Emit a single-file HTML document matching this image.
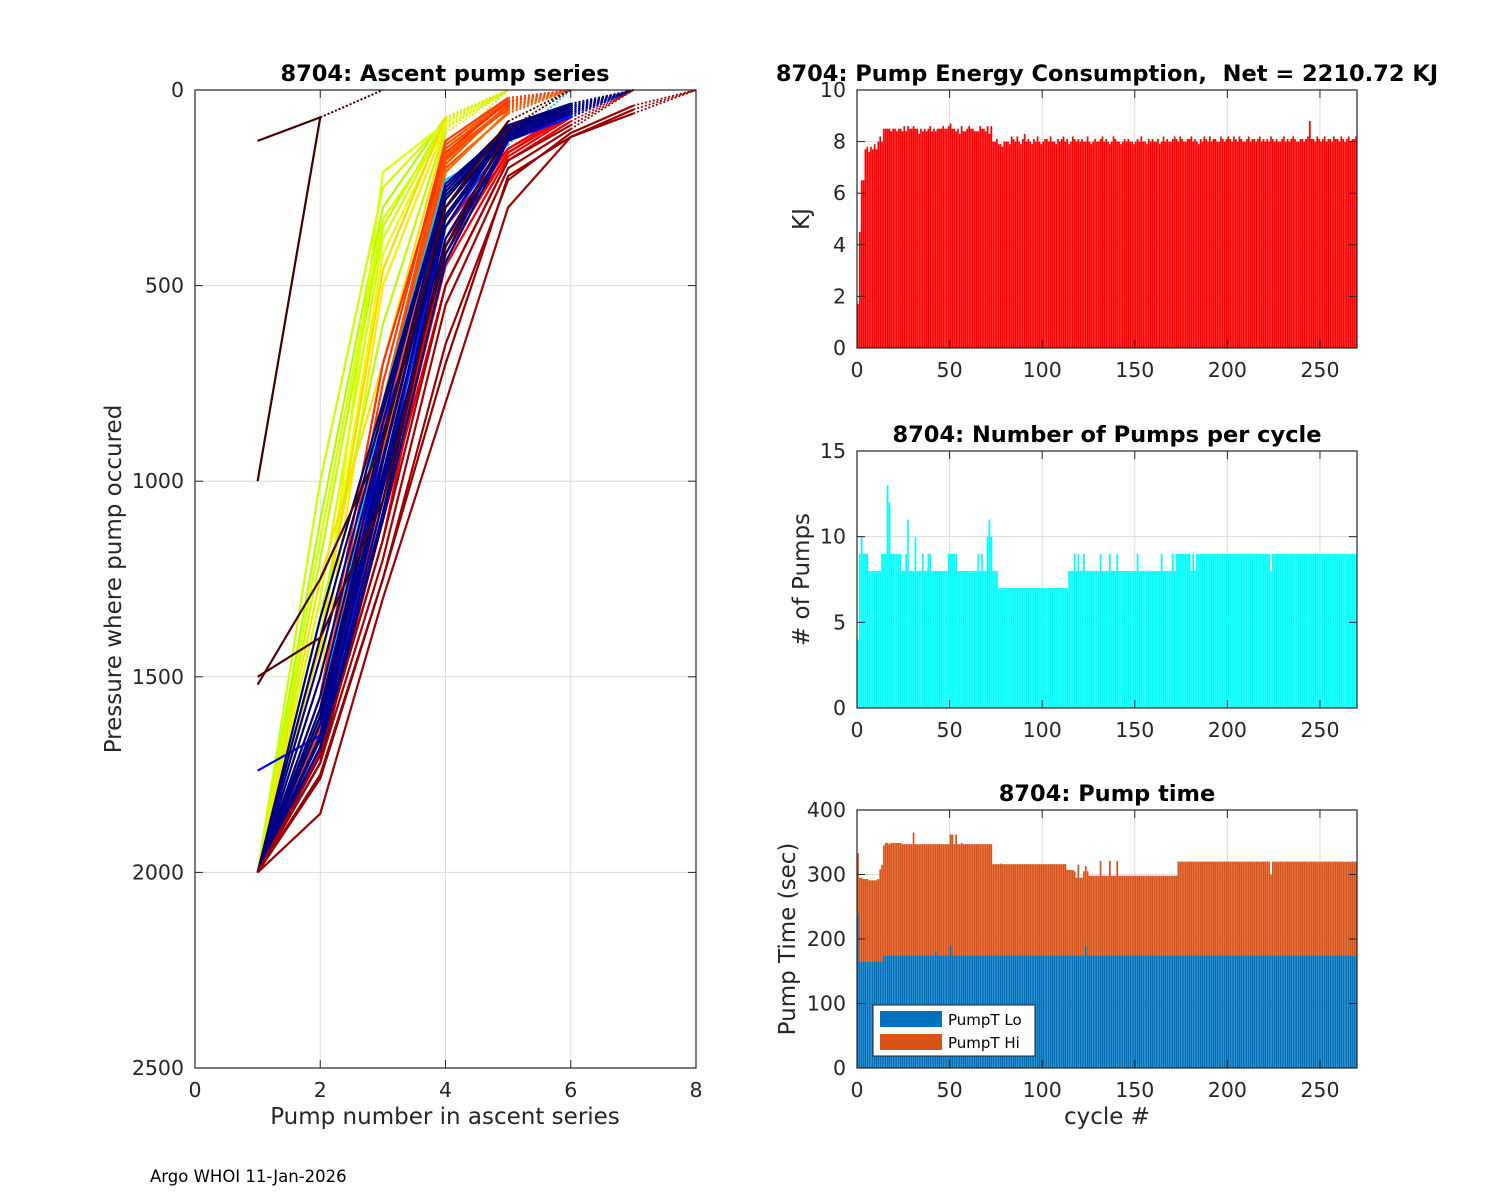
<!DOCTYPE html>
<html><head><meta charset="utf-8">
<style>
html,body{margin:0;padding:0;background:#fff;}
svg{display:block;font-family:"DejaVu Sans","Liberation Sans",sans-serif;}
.tick{font-size:20.5px;fill:#262626;}
.ttl{font-size:22.5px;font-weight:bold;fill:#000;white-space:pre;}
.lbl{font-size:23px;fill:#262626;}
</style></head>
<body>
<svg id="fig" width="1500" height="1200" viewBox="0 0 1500 1200">
<rect width="1500" height="1200" fill="#fff"/>
<text x="150" y="1182" font-size="16.5" fill="#000">Argo WHOI 11-Jan-2026</text>
</svg>
<script>
// ---------- DATA ----------
const profileP = [
[2000,1500,500,90],[2000,1400,420,85],[2000,1300,380,80],[2000,1200,350,75],[2000,1100,300,70],
[2000,1000,250,80],[2000,1450,210,85],[2000,1350,600,100],[2000,1250,700,110],[2000,1550,1100,150],
[2000,1150,330,95],[2000,1420,460,70],
[2000,1650,900,170,40],[2000,1600,850,150,30],[2000,1620,800,140,25],[2000,1580,750,130,20],
[2000,1680,950,180,45],[2000,1550,700,160,30],[2000,1640,880,200,60],[2000,1600,820,160,50],
[2000,1660,920,190,35],[2000,1700,1000,210,55],[2000,1630,870,175,40],[2000,1610,840,165,45],
[2000,1680,1100,450,170,70],[2000,1700,1150,400,160,60],[2000,1650,1050,380,150,60],
[2000,1720,1100,500,180,80],[2000,1600,1000,350,150,55],[2000,1690,1080,420,160,65],
[2000,1700,950,300,110,60],[2000,1720,1000,350,120,65],[2000,1680,900,280,100,55],
[2000,1650,850,400,130,70],[2000,1600,800,250,90,50],[1740,1650,900,300,110,60],
[2000,1600,800,230,140],
[2000,1650,1000,300,110,50],[2000,1700,1050,350,100,45],[2000,1600,950,280,95,40],
[2000,1550,900,260,90,35],[2000,1500,880,320,105,50],[2000,1450,850,240,100,45],
[2000,1680,1000,420,120,55],[2000,1720,1080,380,115,60],[2000,1400,820,270,95,40],
[2000,1620,980,330,110,50],[2000,1580,940,300,100,45],[2000,1660,1020,400,125,55],
[2000,1350,800,250,90,40],[2000,1700,1100,440,130,60],
[2000,1850,1300,800,300,120,50],[2000,1750,1250,650,230,110,40],[2000,1720,1200,550,200,100],
[2000,1700,1150,500,180,90],[2000,1760,1250,700,220,120,60],
[130,70],[1000,70],[1520,1250,900,300,80],[1500,1400,1050,400,100]
];
const profileColor = [
'#ffee00','#e8ff00','#d4ff00','#c0ff00','#b0ff00','#ccff00','#e0ff00','#bbff00','#ffe000','#a8ff00','#d8ff00','#ffd800',
'#ff6000','#ff4800','#ff5400','#ff3c00','#ff6c00','#ff3000','#ff5000','#ff4000','#ff5c00','#ff7000','#ff4400','#ff5800',
'#ff0000','#f00000','#ff1000','#e80000','#ff0000','#f40000',
'#0000ff','#0020ff','#0040ff','#0010f0','#00e0ff','#0000ff','#00c8ff',
'#000080','#00008b','#000070','#000090','#00007a','#0000a0','#000080','#000088','#000075','#000085','#00007f','#000090','#000078','#000082',
'#a00000','#a00000','#a80000','#a00000','#980000',
'#400000','#400000','#500000','#500000'
];

const cycles = [];
for (let c = 1; c <= 270; c++) cycles.push(c);

const energy = [
1.7,4.5,6.5,6.5,7.7,7.8,7.6,7.8,7.7,7.9, 7.7,8.0,8.2,8.0,8.5,8.5,8.5,8.5,8.4,8.5,
8.5,8.4,8.5,8.5,8.4,8.6,8.4,8.6,8.5,8.5, 8.6,8.5,8.5,8.3,8.5,8.4,8.5,8.4,8.5,8.6,
8.4,8.5,8.4,8.5,8.5,8.5,8.6,8.5,8.5,8.6, 8.7,8.5,8.5,8.4,8.5,8.3,8.6,8.4,8.4,8.5,
8.6,8.5,8.5,8.4,8.4,8.4,8.6,8.5,8.5,8.4, 8.6,8.3,8.6,8.0,8.0,8.1,7.9,7.9,7.8,8.0,
8.0,8.0,7.9,8.2,8.1,8.0,8.2,8.0,7.9,8.1, 8.3,8.0,8.1,8.0,7.9,8.1,8.0,8.2,8.0,7.9,
8.0,8.1,8.1,8.0,8.2,8.0,8.0,7.9,8.1,8.0, 8.1,8.2,8.0,8.1,7.9,8.0,8.2,8.1,8.0,8.1,
8.0,8.1,8.0,8.0,8.2,8.0,7.9,8.0,8.1,8.0, 8.0,8.1,8.2,8.0,8.1,8.0,7.9,8.0,8.2,8.1,
8.0,8.0,7.9,8.0,8.1,8.0,8.1,8.0,8.0,7.9, 8.0,8.1,8.0,8.2,8.0,8.0,7.9,8.1,8.0,8.1,
8.0,8.0,8.1,7.9,8.0,8.2,8.0,8.1,8.0,8.0, 8.1,8.2,8.1,8.0,8.2,8.1,8.0,8.0,8.1,8.1,
8.2,8.0,8.1,8.0,7.9,8.1,8.0,8.2,8.1,8.0, 8.2,8.0,8.1,8.1,8.0,8.0,8.2,8.1,8.0,8.1,
8.2,8.1,8.0,8.2,8.1,8.0,8.2,8.1,8.0,8.0, 8.1,8.2,8.0,8.1,8.1,8.0,8.1,8.2,8.0,8.1,
8.0,8.1,8.0,8.2,8.1,8.0,8.1,8.0,8.0,8.1, 8.2,8.0,8.1,8.0,8.1,8.2,8.1,8.0,8.0,8.1,
8.1,8.0,8.1,8.2,8.8,8.1,8.1,8.0,8.2,8.1, 8.0,8.1,8.2,8.0,8.1,8.1,8.0,8.2,8.1,8.1,
8.0,8.2,8.1,8.0,8.1,8.2,8.0,8.1,8.1,8.2
];

const pumps = [
4,9,10,9,9,9,8,8,8,8, 8,8,8,9,9,9,13,12,9,9,
9,9,9,9,8,8,9,11,8,8, 8,10,8,8,8,9,8,8,9,9,
8,8,8,8,8,8,8,8,8,9, 9,9,9,9,8,8,8,8,8,8,
8,8,8,8,8,9,8,9,8,8, 10,11,10,8,8,8,7,7,7,7,
7,7,7,7,7,7,7,7,7,7, 7,7,7,7,7,7,7,7,7,7,
7,7,7,7,7,7,7,7,7,7, 7,7,7,7,8,8,8,9,8,9,
8,8,9,8,8,8,8,8,8,8, 8,9,8,8,8,8,9,8,8,8,
9,8,8,8,8,8,8,8,8,8, 8,9,8,8,8,8,8,8,8,8,
8,8,8,8,9,8,8,8,8,8, 9,8,9,9,9,9,9,9,9,9,
8,9,8,9,9,9,9,9,9,9, 9,9,9,9,9,9,9,9,9,9,
9,9,9,9,9,9,9,9,9,9, 9,9,9,9,9,9,9,9,9,9,
9,9,9,8,9,9,9,9,9,9, 9,9,9,9,9,9,9,9,9,9,
9,9,9,9,9,9,9,9,9,9, 9,9,9,9,9,9,9,9,9,9,
9,9,9,9,9,9,9,9,9,9
];

const pumpLo = [
240,165,165,165,165,165,165,165,165,165, 165,165,165,165,175,175,175,175,175,175,
175,175,175,175,175,175,175,175,175,175, 175,175,175,175,175,175,175,175,175,175,
175,175,180,175,175,175,175,175,175,175, 190,175,175,175,175,175,175,175,175,175,
175,175,175,175,175,175,175,175,175,175, 175,175,175,175,175,175,175,175,175,175,
175,175,175,175,175,175,175,175,175,175, 175,175,175,175,175,175,175,175,175,175,
175,175,175,175,175,175,175,175,175,175, 175,175,175,175,175,175,175,175,175,175,
175,175,175,190,175,175,175,175,175,175, 175,175,175,175,175,175,175,175,175,175,
175,175,175,175,175,175,175,175,175,175, 175,175,175,175,175,175,175,175,175,175,
175,175,175,175,175,175,175,175,175,175, 175,175,175,175,175,175,175,175,175,175,
175,175,175,175,175,175,175,175,175,175, 175,175,175,175,175,175,175,175,175,175,
175,175,175,175,175,175,175,175,175,175, 175,175,175,175,175,175,175,175,175,175,
175,175,175,175,175,175,175,175,175,175, 175,175,175,175,175,175,175,175,175,175,
175,175,175,175,175,175,175,175,175,175, 175,175,175,175,175,175,175,175,175,175,
175,175,175,175,175,175,175,175,175,175
];

const pumpHi = [
93,130,130,128,128,128,126,126,126,126, 126,128,143,150,170,174,174,172,174,174,
174,174,174,174,172,172,172,172,172,172, 190,172,172,172,172,172,172,172,172,172,
172,172,167,172,172,172,172,172,172,172, 172,187,172,187,172,172,174,172,172,172,
172,172,172,172,172,172,172,172,172,172, 172,172,172,141,141,141,141,142,141,141,
141,141,141,141,141,141,141,141,141,141, 141,141,141,141,141,141,141,141,141,141,
141,141,141,141,141,141,141,141,141,141, 141,141,141,132,132,132,132,130,120,140,
120,120,130,123,130,123,123,123,123,123, 123,146,123,123,123,123,146,123,123,123,
146,123,123,123,123,123,123,123,123,123, 123,123,123,123,123,123,123,123,123,123,
123,123,123,123,123,123,123,123,123,123, 123,123,123,145,145,145,145,145,145,145,
145,145,145,145,145,145,145,145,145,145, 145,145,145,145,145,145,145,145,145,145,
145,145,145,145,145,145,145,145,145,145, 145,145,145,145,145,145,145,145,145,145,
145,145,145,125,145,145,145,145,145,145, 145,145,145,145,145,145,145,145,145,145,
145,145,145,145,145,145,145,145,145,145, 145,145,145,145,145,145,145,145,145,145,
145,145,145,145,145,145,145,145,145,145
];

const leftXTicks = [0,2,4,6,8];
const leftYTicks = [0,500,1000,1500,2000,2500];
const cycleTicks = [0,50,100,150,200,250];
const energyTicks = [0,2,4,6,8,10];
const pumpTicks = [0,5,10,15];
const timeTicks = [0,100,200,300,400];

// ---------- DRAW ----------
const NS = 'http://www.w3.org/2000/svg';
const svg = document.getElementById('fig');
function el(tag, attrs, parent) {
  const e = document.createElementNS(NS, tag);
  for (const k in attrs) e.setAttribute(k, attrs[k]);
  (parent || svg).appendChild(e);
  return e;
}
function scale(d0, d1, r0, r1) { return v => r0 + (v - d0) / (d1 - d0) * (r1 - r0); }

function axes(name, x0, x1, y0, y1, xs, ys, xt, yt, title, titleX) {
  const g = el('g', {});
  
  
  xt.forEach(v => { const x = xs(v); el('line', {x1:x, x2:x, y1:y0, y2:y1, stroke:'#dcdcdc', 'stroke-width':1}, g); });
  yt.forEach(v => { const y = ys(v); el('line', {x1:x0, x2:x1, y1:y, y2:y, stroke:'#dcdcdc', 'stroke-width':1}, g); });
  const t = el('text', {x: titleX, y: y0 - 9, 'text-anchor':'middle', class:'ttl'});
  t.textContent = title;
  
  
  return g;
}
function frame(name, x0, x1, y0, y1, xs, ys, xt, yt, xfmt, yfmt) {
  const g = el('g', {});
  
  
  el('rect', {x:x0, y:y0, width:x1-x0, height:y1-y0, fill:'none', stroke:'#262626', 'stroke-width':1.2}, g);
  xt.forEach(v => {
    const x = xs(v);
    el('line', {x1:x, x2:x, y1:y1, y2:y1-8, stroke:'#262626'}, g);
    el('line', {x1:x, x2:x, y1:y0, y2:y0+8, stroke:'#262626'}, g);
    const t = el('text', {x:x, y:y1+29, 'text-anchor':'middle', class:'tick'}, g);
    t.textContent = xfmt(v);
    
    
  });
  yt.forEach(v => {
    const y = ys(v);
    el('line', {x1:x0, x2:x0+8, y1:y, y2:y, stroke:'#262626'}, g);
    el('line', {x1:x1, x2:x1-8, y1:y, y2:y, stroke:'#262626'}, g);
    const t = el('text', {x:x0-11, y:y+7, 'text-anchor':'end', class:'tick'}, g);
    t.textContent = yfmt(v);
    
    
  });
}
function label(text, x, y, rot, name) {
  const t = el('text', {x:x, y:y, 'text-anchor':'middle', class:'lbl', transform: rot ? `rotate(-90 ${x} ${y})` : ''});
  t.textContent = text;
  
  
}

// Left chart
const LX0 = 195, LX1 = 696, LY0 = 90, LY1 = 1068;
const lx = scale(0, 8, LX0, LX1), ly = scale(0, 2500, LY0, LY1);
axes('ascent-pump-chart', LX0, LX1, LY0, LY1, lx, ly, leftXTicks, leftYTicks, '8704: Ascent pump series', 445);
const lg = el('g', {});


profileP.forEach((p, i) => {
  const pts = p.map((v, k) => lx(k + 1) + ',' + ly(v)).join(' ');
  const line = el('polyline', {points: pts, fill:'none', stroke: profileColor[i], 'stroke-width': 2.2, 'stroke-linejoin':'round'}, lg);
  
  
  const n = p.length;
  const d = el('line', {x1: lx(n), y1: ly(p[n-1]), x2: lx(n + 1), y2: ly(0), stroke: profileColor[i], 'stroke-width': 1.8, 'stroke-dasharray':'2 2'}, lg);
  
  
});
frame('ascent-pump-chart', LX0, LX1, LY0, LY1, lx, ly, leftXTicks, leftYTicks, v => v, v => v);
label('Pump number in ascent series', 445, 1124, false, 'x-axis-title-left');
label('Pressure where pump occured', 121, 579, true, 'y-axis-title-left');

// Right charts
const RX0 = 857, RX1 = 1357;
const rx = scale(0, 270, RX0, RX1);
const bw = (rx(1) - rx(0)) * 0.92;

function barChart(name, y0, y1, ymax, ticks, vals, color, title, ylab, ylabX) {
  const ys = scale(0, ymax, y1, y0);
  axes(name, RX0, RX1, y0, y1, rx, ys, cycleTicks, ticks, title, 1107);
  const g = el('g', {});
  
  
  vals.forEach((v, i) => {
    const c = cycles[i];
    const r = el('rect', {x: rx(c) - bw, y: ys(v), width: bw, height: ys(0) - ys(v), fill: color}, g);
    
    
  });
  frame(name, RX0, RX1, y0, y1, rx, ys, cycleTicks, ticks, v => v, v => v);
  label(ylab, ylabX, (y0 + y1) / 2, true, name + '-y-axis-title');
  return ys;
}
barChart('energy-chart', 90, 348, 10, energyTicks, energy, '#ff0000', '8704: Pump Energy Consumption,  Net = 2210.72 KJ', 'KJ', 809);
barChart('pumps-chart', 451, 708, 15, pumpTicks, pumps, '#00ffff', '8704: Number of Pumps per cycle', '# of Pumps', 809);

// stacked time chart
const TY0 = 810, TY1 = 1068;
const ty = scale(0, 400, TY1, TY0);
axes('pump-time-chart', RX0, RX1, TY0, TY1, rx, ty, cycleTicks, timeTicks, '8704: Pump time', 1107);
const tg = el('g', {});


pumpLo.forEach((lo, i) => {
  const c = cycles[i], hi = pumpHi[i];
  const a = el('rect', {x: rx(c) - bw, y: ty(lo), width: bw, height: ty(0) - ty(lo), fill:'#0072bd'}, tg);
  
  
  const b = el('rect', {x: rx(c) - bw, y: ty(lo + hi), width: bw, height: ty(lo) - ty(lo + hi), fill:'#d95319'}, tg);
  
  
});
frame('pump-time-chart', RX0, RX1, TY0, TY1, rx, ty, cycleTicks, timeTicks, v => v, v => v);
label('Pump Time (sec)', 795, 939, true, 'y-axis-title-time');
label('cycle #', 1107, 1124, false, 'x-axis-title-cycle');

// legend
const leg = el('g', {});


el('rect', {x:873, y:1005, width:162, height:51, fill:'#fff', stroke:'#262626', 'stroke-width':1}, leg);
el('rect', {x:880, y:1011, width:62, height:16, fill:'#0072bd'}, leg);
el('rect', {x:880, y:1034, width:62, height:16, fill:'#d95319'}, leg);
const l1 = el('text', {x:948, y:1025, 'font-size':15, fill:'#000'}, leg);
l1.textContent = 'PumpT Lo';


const l2 = el('text', {x:948, y:1048, 'font-size':15, fill:'#000'}, leg);
l2.textContent = 'PumpT Hi';


</script>
</body></html>
